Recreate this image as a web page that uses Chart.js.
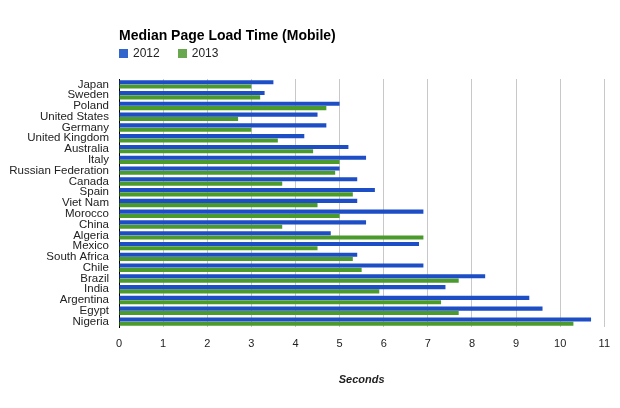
<!DOCTYPE html>
<html>
<head>
<meta charset="utf-8">
<script src="https://cdn.jsdelivr.net/npm/chart.js@4/dist/chart.umd.min.js"></script>
<style>
html,body{margin:0;padding:0;background:#fff;}
#wrap{position:relative;width:620px;height:408px;font-family:"Liberation Sans",Arial,sans-serif;}
#title{position:absolute;left:119px;top:27px;font-size:14px;font-weight:bold;color:#000;white-space:nowrap;}
#legend{position:absolute;left:119px;top:46px;font-size:12px;color:#222;white-space:nowrap;}
#legend span.sw{display:inline-block;width:9px;height:9px;vertical-align:-1px;margin-right:5px;}
#legend span.item{margin-right:18px;}
canvas{position:absolute;left:0;top:0;}
</style>
</head>
<body>
<div id="wrap">
<canvas id="c" width="620" height="408"></canvas>
<div id="title">Median Page Load Time (Mobile)</div>
<div id="legend"></div>
</div>
<script>
const categories = ["Japan","Sweden","Poland","United States","Germany","United Kingdom","Australia","Italy","Russian Federation","Canada","Spain","Viet Nam","Morocco","China","Algeria","Mexico","South Africa","Chile","Brazil","India","Argentina","Egypt","Nigeria"];
const seriesNames = ["2012","2013"];
const values2012 = [3.5,3.3,5.0,4.5,4.7,4.2,5.2,5.6,5.0,5.4,5.8,5.4,6.9,5.6,4.8,6.8,5.4,6.9,8.3,7.4,9.3,9.6,10.7];
const values2013 = [3.0,3.2,4.7,2.7,3.0,3.6,4.4,5.0,4.9,3.7,5.3,4.5,5.0,3.7,6.9,4.5,5.3,5.5,7.7,5.9,7.3,7.7,10.3];
const xTicks = [0,1,2,3,4,5,6,7,8,9,10,11];
const axisTitle = "Seconds";

const barColors = ["#1d4ec6","#4b9a2c"];
const legendColors = ["#3366cc","#6aa84f"];

const leg = document.getElementById('legend');
seriesNames.forEach((n,i)=>{
  const s = document.createElement('span'); s.className='item';
  s.innerHTML = '<span class="sw" style="background:'+legendColors[i]+'"></span>'+n;
  leg.appendChild(s);
});

Chart.defaults.font.family = '"Liberation Sans", Arial, sans-serif';
new Chart(document.getElementById('c'), {
  type: 'bar',
  data: {
    labels: categories,
    datasets: [
      {label: seriesNames[0], data: values2012, backgroundColor: barColors[0]},
      {label: seriesNames[1], data: values2013, backgroundColor: barColors[1]}
    ]
  },
  options: {
    indexAxis: 'y',
    responsive: false,
    animation: false,
    layout: {padding: {top: 79, right: 15, left: 0, bottom: 0}},
    categoryPercentage: 0.8,
    barPercentage: 0.95,
    plugins: {legend: {display: false}, tooltip: {enabled: false}, title: {display: false}},
    scales: {
      x: {
        min: 0, max: 11,
        afterBuildTicks: (s) => { s.ticks = xTicks.map(v => ({value: v})); },
        afterFit: (s) => { s.height = 81; },
        ticks: {color: '#222', font: {size: 11}, padding: 10},
        grid: {color: '#c8c8c8', drawTicks: false, lineWidth: 1},
        border: {display: false},
        title: {display: true, text: axisTitle, color: '#222', font: {size: 11, weight: 'bold', style: 'italic'}, padding: {top: 4, bottom: 21}}
      },
      y: {
        afterFit: (s) => { s.width = 119; },
        ticks: {color: '#222', font: {size: 11.5}, padding: 10, autoSkip: false},
        grid: {display: false, drawTicks: false},
        border: {display: true, color: '#000', width: 1}
      }
    }
  }
});
</script>
</body>
</html>
